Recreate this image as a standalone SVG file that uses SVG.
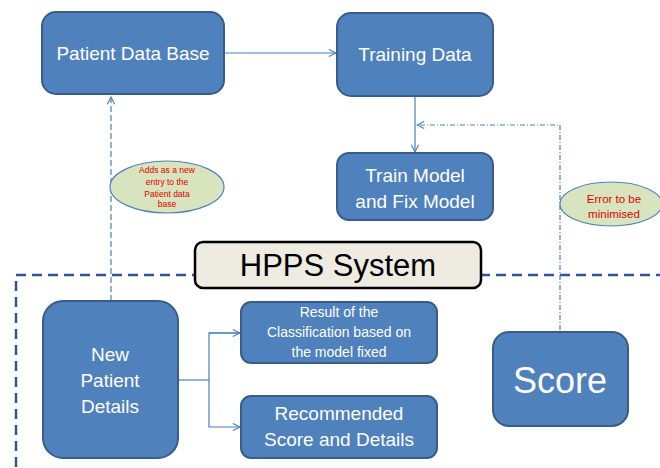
<svg xmlns="http://www.w3.org/2000/svg" width="660" height="468" viewBox="0 0 660 468">
<defs>
<style>
.box{fill:#4f81bd;stroke:#385d8a;stroke-width:2}
.t{fill:#ffffff;font-family:"Liberation Sans",Arial,sans-serif;text-anchor:middle}
.ell{fill:#d7e4bd;stroke:#4f81bd;stroke-width:1.2}
.red{fill:#e00000;font-family:"Liberation Sans",Arial,sans-serif;text-anchor:middle}
.con{fill:none;stroke:#4a7ebb;stroke-width:1.2}
</style>
<marker id="arr" viewBox="0 0 10 10" refX="9" refY="5" markerWidth="9" markerHeight="9" markerUnits="userSpaceOnUse" orient="auto">
<path d="M1,1 L9,5 L1,9" fill="none" stroke="#4a7ebb" stroke-width="1.2"/>
</marker>
</defs>
<rect width="660" height="468" fill="#ffffff"/>
<g id="connectors">
<line class="con" x1="224" y1="53" x2="336" y2="53" marker-end="url(#arr)"/>
<line class="con" x1="415" y1="96" x2="415" y2="152" marker-end="url(#arr)"/>
<polyline class="con" points="560,330 560,125 417,125" stroke-dasharray="5,2,1,2" marker-end="url(#arr)"/>
<line class="con" x1="111" y1="301" x2="111" y2="97" stroke-dasharray="6,3" marker-end="url(#arr)"/>
<polyline class="con" points="178,380 209,380"/>
<polyline class="con" points="240,333 209,333 209,427 240,427" marker-end="url(#arr)"/>
<line class="con" x1="209" y1="333" x2="240" y2="333" marker-end="url(#arr)"/>
</g>
<g id="system">
<rect x="16" y="275" width="660" height="220" fill="none" stroke="#2f5597" stroke-width="2.5" stroke-dasharray="10,6"/>
</g>
<g id="hpps">
<rect x="195" y="242" width="286" height="46" rx="8" fill="#eeece1" stroke="#000000" stroke-width="2.5"/>
<text x="338" y="276" font-family="Liberation Sans,Arial,sans-serif" font-size="31" text-anchor="middle" fill="#000000">HPPS System</text>
</g>
<g id="patient-data-base">
<rect class="box" x="42" y="12" width="182" height="82" rx="14"/>
<text class="t" x="133" y="60" font-size="19">Patient Data Base</text>
</g>
<g id="training-data">
<rect class="box" x="337" y="13" width="156" height="83" rx="14"/>
<text class="t" x="415" y="61" font-size="19">Training Data</text>
</g>
<g id="train-model">
<rect class="box" x="337" y="153" width="156" height="67" rx="12"/>
<text class="t" x="415" y="182" font-size="19">Train Model</text>
<text class="t" x="415" y="208" font-size="19">and Fix Model</text>
</g>
<g id="adds-note">
<ellipse class="ell" cx="167" cy="187" rx="57" ry="26"/>
<text class="red" x="167" y="173" font-size="8.5">Adds as a new</text>
<text class="red" x="167" y="185" font-size="8.5">entry to the</text>
<text class="red" x="167" y="197" font-size="8.5">Patient data</text>
<text class="red" x="167" y="207" font-size="8.5">base</text>
</g>
<g id="error-note">
<ellipse class="ell" cx="611" cy="204" rx="51" ry="22"/>
<text class="red" x="614" y="203" font-size="11.5">Error to be</text>
<text class="red" x="614" y="218" font-size="11.5">minimised</text>
</g>
<g id="new-patient">
<rect class="box" x="43" y="301" width="135" height="157" rx="20"/>
<text class="t" x="110" y="361" font-size="19">New</text>
<text class="t" x="110" y="387" font-size="19">Patient</text>
<text class="t" x="110" y="413" font-size="19">Details</text>
</g>
<g id="result">
<rect class="box" x="241" y="302" width="196" height="61" rx="10"/>
<text class="t" x="339" y="317" font-size="14">Result of the</text>
<text class="t" x="339" y="337" font-size="14">Classification based on</text>
<text class="t" x="339" y="357" font-size="14">the model fixed</text>
</g>
<g id="recommended">
<rect class="box" x="241" y="396" width="196" height="62" rx="10"/>
<text class="t" x="339" y="420" font-size="19">Recommended</text>
<text class="t" x="339" y="446" font-size="19">Score and Details</text>
</g>
<g id="score">
<rect class="box" x="493" y="332" width="135" height="94" rx="16"/>
<text class="t" x="560" y="393" font-size="36">Score</text>
</g>
</svg>
